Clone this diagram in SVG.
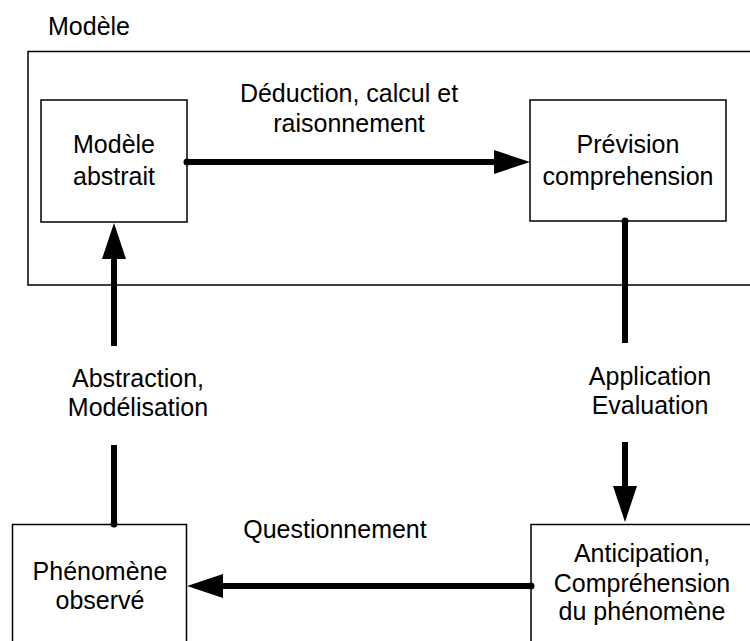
<svg xmlns="http://www.w3.org/2000/svg" width="750" height="641" viewBox="0 0 750 641">
  <style>
    .box { fill: #ffffff; stroke: #000000; stroke-width: 1.5; }
    .frame { fill: none; stroke: #000000; stroke-width: 1.5; }
    .lbl { font-family: "Liberation Sans", Arial, sans-serif; font-size: 25px; fill: #000000; text-anchor: middle; }
    .conn { fill: none; stroke: #000000; stroke-width: 6; stroke-linecap: butt; }
    .dot { fill: #000000; }
  </style>
  <defs>
    <marker id="head" viewBox="0 -12 36 24" markerWidth="36" markerHeight="24" refX="0" refY="0" orient="auto" markerUnits="userSpaceOnUse" overflow="visible">
      <path d="M0,-12 L36,0 L0,12 Z" fill="#000000"/>
    </marker>
  </defs>
  <rect width="750" height="641" fill="#ffffff"/>

  <g id="modele-frame">
    <rect class="frame" x="28" y="51.5" width="740" height="233.5"/>
    <text class="lbl" x="48" y="35" style="text-anchor:start">Modèle</text>
  </g>

  <g id="modele-abstrait">
    <rect class="box" x="41" y="100" width="146" height="122"/>
    <text class="lbl" x="114" y="153">Modèle</text>
    <text class="lbl" x="114" y="185">abstrait</text>
  </g>

  <g id="prevision">
    <rect class="box" x="530" y="100" width="196" height="121"/>
    <text class="lbl" x="628" y="153">Prévision</text>
    <text class="lbl" x="628" y="185">comprehension</text>
  </g>

  <g id="phenomene">
    <rect class="box" x="12.5" y="524.5" width="174" height="130"/>
    <text class="lbl" x="100" y="580">Phénomène</text>
    <text class="lbl" x="100" y="609">observé</text>
  </g>

  <g id="anticipation">
    <rect class="box" x="531" y="524.5" width="240" height="130"/>
    <text class="lbl" x="642" y="562">Anticipation,</text>
    <text class="lbl" x="642" y="591.5">Compréhension</text>
    <text class="lbl" x="642" y="620">du phénomène</text>
  </g>

  <g id="connectors">
    <!-- Modèle abstrait -> Prévision -->
    <path class="conn" d="M187,162 L494,162" marker-end="url(#head)"/>
    <circle class="dot" cx="187" cy="162" r="3.5"/>
    <!-- Prévision -> Anticipation -->
    <path class="conn" d="M625,221 L625,343"/>
    <circle class="dot" cx="625" cy="221" r="3.5"/>
    <path class="conn" d="M625,442 L625,486" marker-end="url(#head)"/>
    <!-- Anticipation -> Phénomène -->
    <path class="conn" d="M531,586 L223,586" marker-end="url(#head)"/>
    <circle class="dot" cx="531" cy="586" r="3.5"/>
    <!-- Phénomène -> Modèle abstrait -->
    <path class="conn" d="M114,524 L114,445"/>
    <circle class="dot" cx="114" cy="524" r="3.5"/>
    <path class="conn" d="M114,346 L114,259" marker-end="url(#head)"/>
  </g>

  <g id="labels">
    <text class="lbl" x="349" y="101.5">Déduction, calcul et</text>
    <text class="lbl" x="349" y="132">raisonnement</text>
    <text class="lbl" x="138" y="387">Abstraction,</text>
    <text class="lbl" x="138" y="416">Modélisation</text>
    <text class="lbl" x="650" y="385">Application</text>
    <text class="lbl" x="650" y="414">Evaluation</text>
    <text class="lbl" x="335" y="538">Questionnement</text>
  </g>
</svg>
